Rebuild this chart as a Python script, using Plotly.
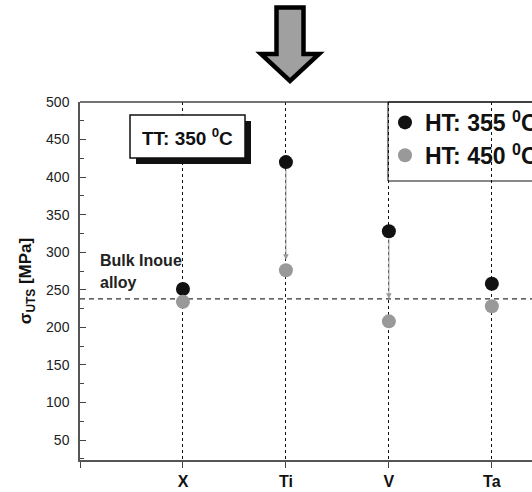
import plotly.graph_objects as go

# ---------------- data ----------------
categories = ["X", "Ti", "V", "Ta"]
cat_pos = [1, 2, 3, 4]
ht355 = [251, 420, 328, 258]
ht450 = [234, 276, 208, 228]
arrow_end = [None, 290, 238, None]   # arrow tips (HT 355 -> HT 450)
bulk_inoue = 238
y_ticks = [50, 100, 150, 200, 250, 300, 350, 400, 450, 500]

W, H = 532, 492
L, R, T, B = 80, 0, 102, 32
FONT = "Liberation Sans, Arial, sans-serif"


def px(x):
    return (x - L) / (W - L - R)


def py(y):
    return (H - B - y) / (H - T - B)


fig = go.Figure()

fig.add_trace(go.Scatter(
    x=cat_pos, y=ht355, mode="markers", name="HT: 355 <sup>0</sup>C",
    marker=dict(color="#111111", size=14), legendgroup="a"))
fig.add_trace(go.Scatter(
    x=cat_pos, y=ht450, mode="markers", name="HT: 450 <sup>0</sup>C",
    marker=dict(color="#999999", size=14), legendgroup="b"))

annotations = []
for xp, y0, y1 in zip(cat_pos, ht355, arrow_end):
    if y1 is None:
        continue
    annotations.append(dict(
        x=xp, y=y1, ax=xp, ay=y0 - 8, xref="x", yref="y", axref="x", ayref="y",
        text="", showarrow=True, arrowhead=2, arrowsize=1.1, arrowwidth=1,
        arrowcolor="#999999"))

# Bulk Inoue labels
annotations.append(dict(x=px(98), y=py(260), xref="paper", yref="paper",
                        text="<b>Bulk Inoue</b>", showarrow=False,
                        xanchor="left", yanchor="middle",
                        font=dict(family=FONT, size=16, color="#222222")))
annotations.append(dict(x=px(98), y=py(282), xref="paper", yref="paper",
                        text="<b>alloy</b>", showarrow=False,
                        xanchor="left", yanchor="middle",
                        font=dict(family=FONT, size=16, color="#222222")))
# TT box text
annotations.append(dict(x=px(187.5), y=py(137), xref="paper", yref="paper",
                        text="<b>TT: 350 <sup>0</sup>C</b>", showarrow=False,
                        xanchor="center", yanchor="middle",
                        font=dict(family=FONT, size=19, color="#111111")))

shapes = [
    # bulk Inoue dashed line
    dict(type="line", xref="paper", yref="y", x0=0, x1=1, y0=bulk_inoue, y1=bulk_inoue,
         line=dict(color="#333333", width=1.2, dash="5px,4px"), layer="below"),
    # top frame
    dict(type="line", xref="paper", yref="paper", x0=0, x1=1, y0=1, y1=1,
         line=dict(color="#444444", width=1.5)),
    # legend frame
    dict(type="rect", xref="paper", yref="paper", x0=px(388), x1=1.05, y0=py(181), y1=1,
         fillcolor="rgba(0,0,0,0)", line=dict(color="#111111", width=1)),
    # TT box shadow + box
    dict(type="rect", xref="paper", yref="paper", x0=px(136), x1=px(251), y0=py(121), y1=py(164),
         fillcolor="#111111", line=dict(width=0)),
    dict(type="rect", xref="paper", yref="paper", x0=px(130), x1=px(245), y0=py(115), y1=py(158),
         fillcolor="white", line=dict(color="#111111", width=1.5)),
]

# big arrow at top
pts = [(276.5, 7.5), (303.5, 7.5), (303.5, 54), (319, 54), (290, 81),
       (261, 54), (276.5, 54)]
path = "M " + " L ".join(f"{px(a):.5f},{py(b):.5f}" for a, b in pts) + " Z"
shapes.append(dict(type="path", xref="paper", yref="paper", path=path,
                   fillcolor="#a0a0a0", line=dict(color="#000000", width=4.5)))

fig.update_layout(
    width=W, height=H,
    margin=dict(l=L, r=R, t=T, b=B, autoexpand=False),
    paper_bgcolor="white", plot_bgcolor="white",
    font=dict(family=FONT, color="#222222"),
    showlegend=True,
    legend=dict(x=px(385), y=1.003, xanchor="left", yanchor="top",
                bgcolor="rgba(0,0,0,0)", borderwidth=0,
                font=dict(family=FONT, size=23, color="#111111", weight="bold"),
                tracegroupgap=0, itemwidth=30),
    annotations=annotations,
    shapes=shapes,
)

fig.update_xaxes(
    range=[0, 4.39], tickvals=[0] + cat_pos, ticktext=[" "] + [f"<b>{c}</b>" for c in categories],
    showgrid=True, gridcolor="#111111", griddash="dot", gridwidth=1,
    zeroline=False, showline=True, linecolor="#555555", linewidth=1.5,
    ticks="outside", ticklen=6, tickcolor="#444444", tickwidth=1.2,
    tickfont=dict(family=FONT, size=16, color="#111111"), ticklabelstandoff=0,
)
fig.update_yaxes(
    range=[23.4, 500], tickvals=y_ticks, showgrid=False, zeroline=False,
    showline=True, linecolor="#555555", linewidth=1.5,
    ticks="inside", ticklen=6, tickcolor="#444444", tickwidth=1.2,
    minor=dict(ticks="inside", ticklen=4, dtick=25, tick0=0, tickcolor="#444444", showgrid=False),
    tickfont=dict(family=FONT, size=14, color="#222222"), ticklabelstandoff=6,
    title=dict(text="<b>σ<sub>UTS</sub> [MPa]</b>", standoff=10,
               font=dict(family=FONT, size=17, color="#111111")),
)

fig.write_html("out.html")
